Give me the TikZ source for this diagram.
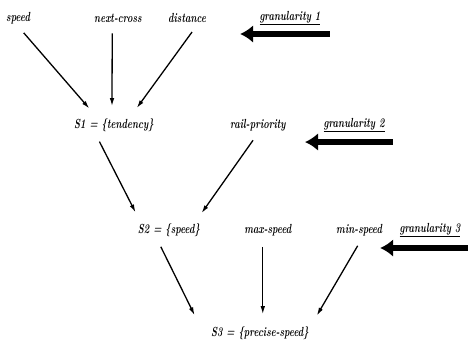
\documentclass[tikz,border=0pt]{standalone}
\usepackage{tikz}
\usetikzlibrary{arrows.meta,positioning}
\tikzset{
  term/.style={font=\large\bfseries\itshape, inner sep=2pt, xscale=0.78, yscale=1.1, transform shape},
  level/.style={font=\large\bfseries\itshape, inner sep=2pt, xscale=0.78, yscale=1.1, transform shape},
  flow/.style={-{Latex[length=2.8mm,width=1.6mm]}, line width=1.3pt, shorten <=0.3cm, shorten >=0.35cm},
  gran/.style={-{Latex[length=4.6mm,width=6.3mm]}, line width=5.5pt}
}

\begin{document}
\begin{tikzpicture}
  \useasboundingbox (0,0) rectangle (16.51,12.35);
  % first level
  \node[term] (speed) at (0.64,11.71) {speed};
  \node[term] (nextcross) at (4.16,11.71) {next-cross};
  \node[term] (distance) at (6.60,11.71) {distance};
  \node[level] (s1) at (4.02,7.94) {S1 = \{tendency\}};
  \draw[flow] (speed.south) -- ([xshift=-0.64cm]s1.north);
  \draw[flow] ([xshift=-0.2cm]nextcross.south) -- ([xshift=-0.07cm]s1.north);
  \draw[flow] ([xshift=0.35cm]distance.south) -- ([xshift=0.6cm]s1.north);
  \node[term] (gran1) at (10.23,11.71) {\underline{granularity 1}};
  \coordinate (g1e) at (11.64,11.15); \coordinate (g1w) at (8.47,11.15);
  \draw[gran] (g1e) -- (g1w);
  % second level
  \node[term] (railprio) at (9.10,7.94) {rail-priority};
  \node[level] (s2) at (5.96,4.23) {S2 = \{speed\}};
  \draw[flow] ([xshift=-0.65cm]s1.south) -- ([xshift=-1.02cm]s2.north);
  \draw[flow] (railprio.south) -- ([xshift=0.95cm]s2.north);
  \node[term] (gran2) at (12.49,7.94) {\underline{granularity 2}};
  \coordinate (g2e) at (13.86,7.34); \coordinate (g2w) at (10.76,7.34);
  \draw[gran] (g2e) -- (g2w);
  % third level
  \node[term] (maxspeed) at (9.45,4.23) {max-speed};
  \node[term] (minspeed) at (12.67,4.23) {min-speed};
  \node[level] (s3) at (9.17,0.60) {S3 = \{precise-speed\}};
  \draw[flow] ([xshift=-0.42cm]s2.south) -- ([xshift=-2.15cm]s3.north);
  \draw[flow] ([xshift=-0.18cm]maxspeed.south) -- ([xshift=0.1cm]s3.north);
  \draw[flow] ([xshift=0.1cm]minspeed.south) -- ([xshift=1.83cm]s3.north);
  \node[term] (gran3) at (15.17,4.23) {\underline{granularity 3}};
  \coordinate (g3e) at (16.51,3.60); \coordinate (g3w) at (13.41,3.60);
  \draw[gran] (g3e) -- (g3w);
\end{tikzpicture}
\end{document}
